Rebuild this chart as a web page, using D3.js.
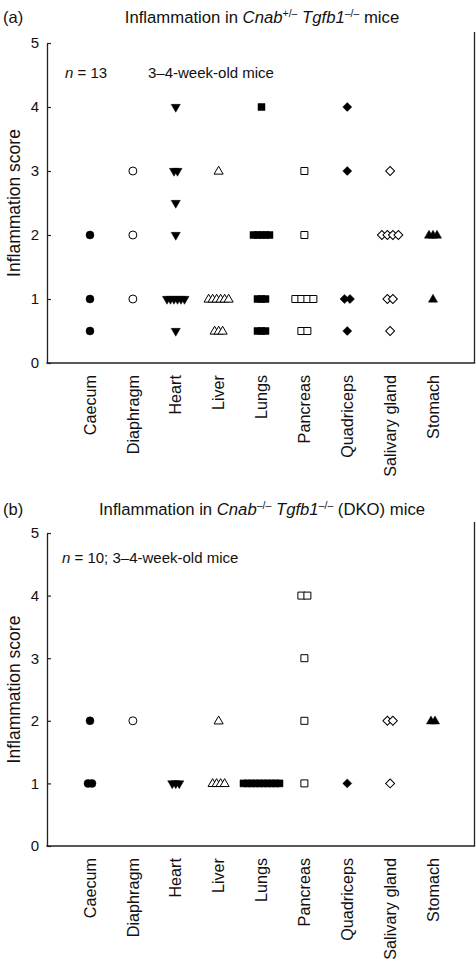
<!DOCTYPE html>
<html><head><meta charset="utf-8">
<script src="https://cdn.jsdelivr.net/npm/d3@7/dist/d3.min.js"></script>
<style>body{margin:0;background:#fff}svg{display:block}text{font-family:"Liberation Sans",Arial,sans-serif;fill:#111}</style>
</head><body><svg id="c" width="476" height="963"></svg>
<script>
const organs = ["Caecum","Diaphragm","Heart","Liver","Lungs","Pancreas","Quadriceps","Salivary gland","Stomach"];
const yTicks = [0,1,2,3,4,5];
// [organ, score, number of mice at that score]
const scoresA = [
  ["Caecum",2,1],["Caecum",1,1],["Caecum",0.5,1],
  ["Diaphragm",3,1],["Diaphragm",2,1],["Diaphragm",1,1],
  ["Heart",4,1],["Heart",3,2],["Heart",2.5,1],["Heart",2,1],["Heart",1,6],["Heart",0.5,1],
  ["Liver",3,1],["Liver",1,6],["Liver",0.5,3],
  ["Lungs",4,1],["Lungs",2,5],["Lungs",1,3],["Lungs",0.5,3],
  ["Pancreas",3,1],["Pancreas",2,1],["Pancreas",1,4],["Pancreas",0.5,2],
  ["Quadriceps",4,1],["Quadriceps",3,1],["Quadriceps",1,2],["Quadriceps",0.5,1],
  ["Salivary gland",3,1],["Salivary gland",2,4],["Salivary gland",1,2],["Salivary gland",0.5,1],
  ["Stomach",2,3],["Stomach",1,1]
];
const scoresB = [
  ["Caecum",2,1],["Caecum",1,2],
  ["Diaphragm",2,1],
  ["Heart",1,3],
  ["Liver",2,1],["Liver",1,4],
  ["Lungs",1,10],
  ["Pancreas",4,2],["Pancreas",3,1],["Pancreas",2,1],["Pancreas",1,1],
  ["Quadriceps",1,1],
  ["Salivary gland",2,2],["Salivary gland",1,1],
  ["Stomach",2,2]
];

// marker styles per organ
const markerStyle = {
  "Caecum":{type:"circle",fill:true,step:4},
  "Diaphragm":{type:"circle",fill:false,step:4},
  "Heart":{type:"down",fill:true,step:3.5},
  "Liver":{type:"up",fill:false,step:4},
  "Lungs":{type:"square",fill:true,step:4},
  "Pancreas":{type:"square",fill:false,step:6},
  "Quadriceps":{type:"diamond",fill:true,step:5.5},
  "Salivary gland":{type:"diamond",fill:false,step:5.5},
  "Stomach":{type:"up",fill:true,step:4}
};

const svg = d3.select("#c");
const left = 47, right = 474.5;
const x = d3.scalePoint().domain(organs).range([90,433]);

function symbolPath(type){
  if(type==="circle") return d3.symbol(d3.symbolCircle, 50)();
  if(type==="square") return d3.symbol(d3.symbolSquare, 49)();
  if(type==="diamond") return d3.symbol(d3.symbolSquare, 40)();
  return d3.symbol(d3.symbolTriangle, 36)();
}

function panel(cfg){
  const g = svg.append("g");
  const y = d3.scaleLinear().domain([0,5]).range([cfg.bottom, cfg.top]);
  g.append("text").attr("x",3).attr("y",cfg.titleY).attr("font-size",16.5).text(cfg.letter);
  const t = g.append("text").attr("x",262).attr("y",cfg.titleY).attr("font-size",16.7).attr("text-anchor","middle");
  cfg.title.forEach(p=>{
    const s = t.append("tspan").text(p.t);
    if(p.i) s.attr("font-style","italic");
    if(p.sup) s.attr("font-size",10.5).attr("dy",-6);
    if(p.down) s.attr("dy",6);
  });
  const ya = d3.axisLeft(y).tickValues(yTicks).tickFormat(d3.format("d")).tickSizeInner(-4).tickSizeOuter(0).tickPadding(8);
  const ag = g.append("g").attr("transform",`translate(${left},0)`).call(ya);
  ag.select(".domain").attr("stroke","#222").attr("stroke-width",1.3);
  ag.selectAll(".tick line").attr("stroke","#222").attr("stroke-width",1.2);
  ag.selectAll(".tick text").attr("font-size",15).attr("font-family","Liberation Sans, Arial, sans-serif").attr("fill","#111");
  g.append("line").attr("x1",left-0.6).attr("x2",right+0.6).attr("y1",y(0)).attr("y2",y(0)).attr("stroke","#222").attr("stroke-width",1.3);
  g.append("line").attr("x1",right).attr("x2",right).attr("y1",cfg.top-11).attr("y2",y(0)).attr("stroke","#222").attr("stroke-width",1.3);
  g.append("text").attr("transform",`translate(20,${(cfg.top+cfg.bottom)/2}) rotate(-90)`).attr("text-anchor","middle").attr("font-size",17.5).text("Inflammation score");
  const n = g.append("text").attr("x",cfg.noteX).attr("y",cfg.noteY).attr("font-size",15);
  n.append("tspan").attr("font-style","italic").text("n");
  n.append("tspan").text(cfg.note);
  if(cfg.note2) g.append("text").attr("x",148).attr("y",cfg.noteY).attr("font-size",15).text(cfg.note2);
  organs.forEach(o=>{
    g.append("text").attr("transform",`translate(${x(o)},${y(0)+12}) rotate(-90)`).attr("text-anchor","end").attr("dy","0.35em").attr("font-size",16.2).text(o);
  });
  const pts = [];
  cfg.data.forEach(([o,s,c])=>{
    const st = markerStyle[o];
    for(let i=0;i<c;i++) pts.push({o,s,off:(i-(c-1)/2)*st.step,st});
  });
  g.append("g").selectAll("path").data(pts).join("path")
    .attr("d",d=>symbolPath(d.st.type))
    .attr("transform",d=>{
      const px = x(d.o)+d.off, py = y(d.s);
      if(d.st.type==="down") return `translate(${px},${py}) rotate(180)`;
      if(d.st.type==="diamond") return `translate(${px},${py}) rotate(45)`;
      if(d.st.type==="up") return `translate(${px},${py+0.5})`;
      return `translate(${px},${py})`;
    })
    .attr("fill",d=>d.st.fill?"#000":"#fff")
    .attr("stroke","#000")
    .attr("stroke-width",d=>d.st.fill?0.5:1);
}

panel({letter:"(a)",titleY:23,top:43,bottom:363,noteX:65,noteY:78,
  note:" = 13", note2:"3–4-week-old mice",
  title:[{t:"Inflammation in "},{t:"Cnab",i:true},{t:"+/–",sup:true},{t:" ",down:true},{t:"Tgfb1",i:true},{t:"–/–",sup:true},{t:" mice",down:true}],
  data:scoresA});
panel({letter:"(b)",titleY:515,top:533,bottom:846,noteX:62,noteY:563,
  note:" = 10; 3–4-week-old mice",
  title:[{t:"Inflammation in "},{t:"Cnab",i:true},{t:"–/–",sup:true},{t:" ",down:true},{t:"Tgfb1",i:true},{t:"–/–",sup:true},{t:" (DKO) mice",down:true}],
  data:scoresB});
</script></body></html>
